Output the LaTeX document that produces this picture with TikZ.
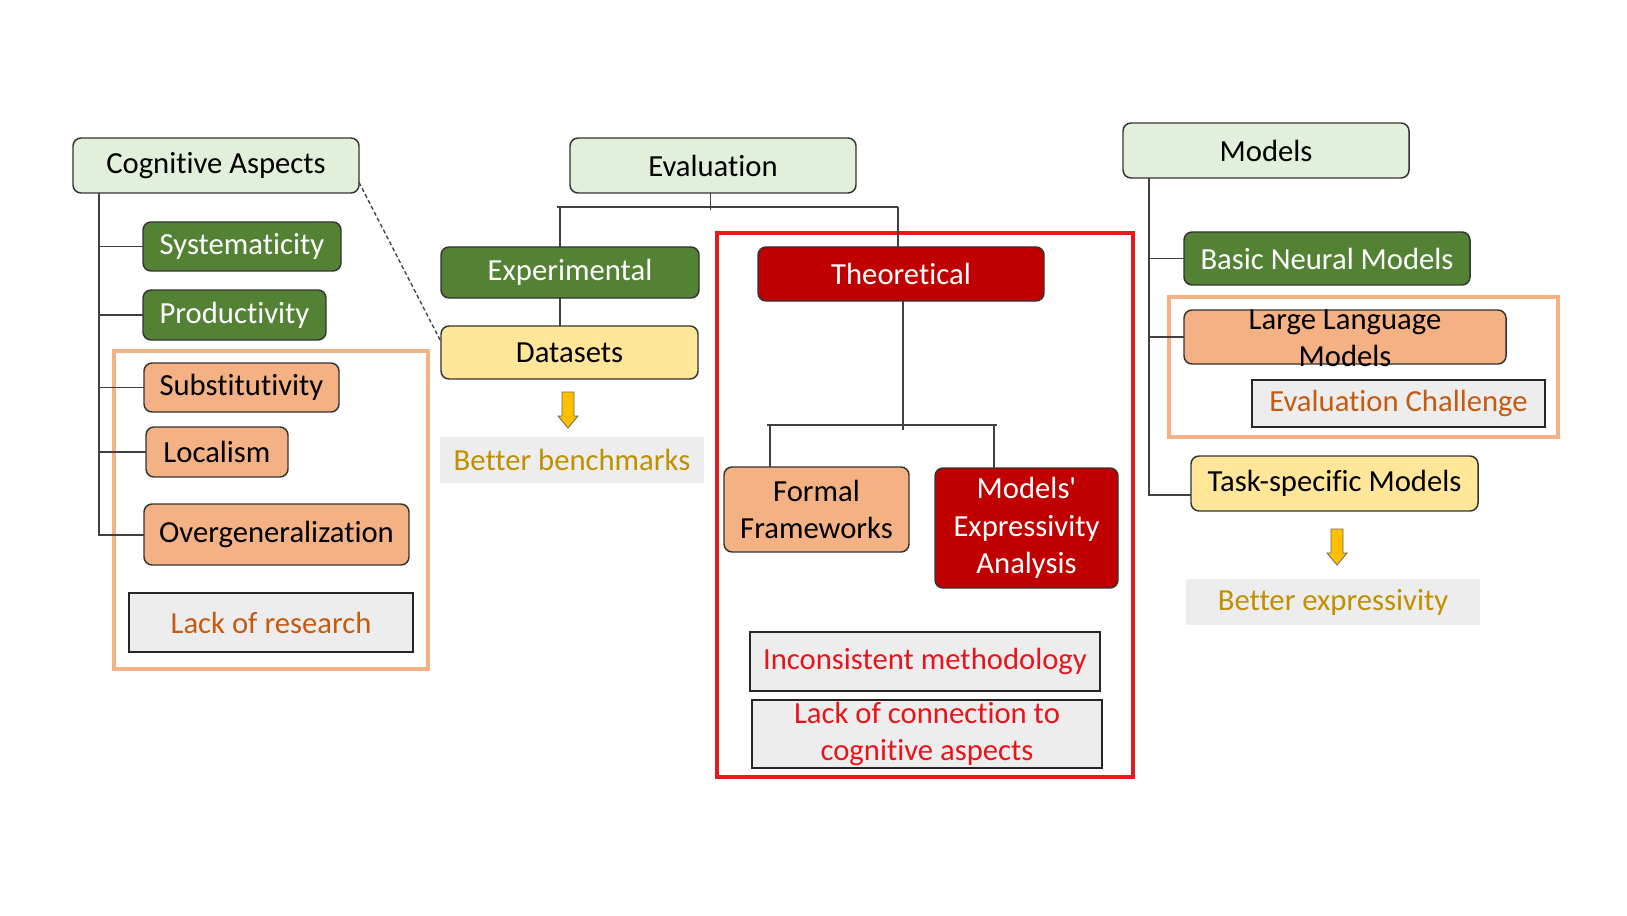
\documentclass[tikz,border=0pt]{standalone}
\usepackage{fontspec}
\newfontfamily\carl{Carlito}[Ligatures=NoCommon]
\definecolor{lgreen}{HTML}{E2EFDA}
\definecolor{dgreen}{HTML}{548235}
\definecolor{orng}{HTML}{F4B183}
\definecolor{yell}{HTML}{FFE699}
\definecolor{dred}{HTML}{C00000}
\definecolor{gry}{HTML}{EDEDED}
\definecolor{otxt}{HTML}{C55A11}
\definecolor{gtxt}{HTML}{BF9000}
\definecolor{rtxt}{HTML}{E8141B}
\definecolor{frred}{HTML}{E31B1B}
\definecolor{arrfill}{HTML}{FFC000}
\newcommand\blkarrow[3]{% center x, top y, bottom y
  \draw[blockarrow] (#1-6,#2) -- (#1+6,#2) -- (#1+6,#3-12) -- (#1+10,#3-12) -- (#1,#3) -- (#1-10,#3-12) -- (#1-6,#3-12) -- cycle;}
% box from corners: style, name, x1, y1, x2, y2, text
\newcommand\bx[7]{\node[#1, minimum width={(#5-#3)*0.75pt}, minimum height={(#6-#4)*0.75pt}] (#2) at ({(#3+#5)/2},{(#4+#6)/2+1}) {#7};}
\begin{document}
\begin{tikzpicture}[x=0.75pt,y=-0.75pt,
 font=\carl\fontsize{23}{28}\selectfont,
 base/.style={inner sep=0pt, outer sep=0pt, align=center, line width=1.1pt, rounded corners=6pt},
 lgbox/.style={base, draw=black!80, fill=lgreen},
 dgbox/.style={base, draw=black!80, fill=dgreen, text=white},
 orbox/.style={base, draw=black!80, fill=orng},
 yebox/.style={base, draw=black!80, fill=yell},
 rdbox/.style={base, draw=black!80, fill=dred, text=white},
 grbox/.style={base, rounded corners=0pt, draw=black!85, fill=gry},
 notebox/.style={base, rounded corners=0pt, fill=gry},
 conn/.style={draw=black!75, line width=0.9pt},
 frame/.style={line width=2.3pt},
 blockarrow/.style={fill=arrfill, draw=black!60, line width=0.6pt},
]
\useasboundingbox (0,0) rectangle (1627,916);
% frames
\draw[frame, draw=orng] (114,351) rectangle (428,669);
\draw[frame, draw=frred] (717,233) rectangle (1133,777);
\draw[frame, draw=orng] (1169,297) rectangle (1558,437);
% left column
\bx{lgbox}{ca}{73}{137}{359}{192}{Cognitive Aspects}
\bx{dgbox}{sys}{143}{221}{341}{270}{Systematicity}
\bx{dgbox}{prod}{143}{289}{326}{339}{Productivity}
\bx{orbox}{subs}{144}{362}{339}{411}{Substitutivity}
\bx{orbox}{loc}{146}{426}{288}{476}{Localism}
\bx{orbox}{og}{144}{503}{409}{564}{Overgeneralization}
\bx{grbox,text=otxt}{lor}{129}{592}{413}{651}{Lack of research}
% middle column
\bx{lgbox}{eval}{570}{137}{856}{192}{Evaluation}
\bx{dgbox}{exp}{441}{246}{699}{297}{Experimental}
\bx{yebox}{ds}{441}{325}{698}{378}{Datasets}
\bx{notebox,text=gtxt}{bb}{440}{436}{704}{482}{Better benchmarks}
\bx{rdbox}{theo}{758}{246}{1044}{300}{Theoretical}
\bx{orbox}{ff}{724}{466}{909}{551}{Formal\\Frameworks}
\bx{rdbox}{mea}{935}{467}{1118}{587}{Models'\\Expressivity\\Analysis}
\bx{grbox,text=rtxt}{im}{750}{631}{1100}{690}{Inconsistent methodology}
\bx{grbox,text=rtxt}{lc}{752}{699}{1102}{767}{Lack of connection to\\cognitive aspects}
% right column
\bx{lgbox}{mod}{1123}{122}{1409}{177}{Models}
\bx{dgbox}{bnm}{1184}{231}{1470}{284}{Basic Neural Models}
\bx{orbox}{llm}{1184}{309}{1506}{363}{}
\node[align=center, inner sep=0pt] (llmt) at ([yshift=-1pt]llm.center) {Large Language\\Models};
\bx{grbox,text=otxt}{ec}{1252}{379}{1545}{426}{Evaluation Challenge}
\bx{yebox}{tsm}{1191}{455}{1478}{510}{Task-specific Models}
\bx{notebox,text=gtxt}{be}{1186}{578}{1480}{624}{Better expressivity}
% connectors: cognitive aspects
\coordinate (cab) at (99,535);
\draw[conn] (ca.south -| cab) -- (cab) -- (og.west |- cab);
\foreach \n in {sys,prod,subs,loc} \draw[conn] (\n.west) -- (\n.west -| cab);
\draw[conn, line width=1pt, dash pattern=on 3pt off 2pt] ([yshift=8pt]ca.south east) -- ([yshift=8pt]ds.west);
% connectors: evaluation
\coordinate (ej) at (560,207);
\coordinate (er) at (898,207);
\draw[conn] ([xshift=-2pt]ej) -- (er);
\draw[conn] ([xshift=-2pt]eval.south) -- ++(0,17);
\draw[conn] (ej) -- (ej |- exp.north);
\draw[conn] (exp.south -| ej) -- (ds.north -| ej);
\draw[conn] (er) -- (er |- theo.north);
\coordinate (tj) at (903,425);
\coordinate (tfl) at (770,425);
\coordinate (tfr) at (994,425);
\draw[conn] (theo.south -| tj) -- ([yshift=-4pt]tj);
\draw[conn] ([xshift=-2pt]tfl) -- ([xshift=2pt]tfr);
\draw[conn] (tfl) -- (tfl |- ff.north);
\draw[conn] (tfr) -- (tfr |- mea.north);
% connectors: models
\coordinate (mb) at (1149,495);
\draw[conn] (mod.south -| mb) -- (mb) -- (mb -| tsm.west);
\draw[conn] (bnm.west) -- (bnm.west -| mb);
\draw[conn] (llm.west) -- (llm.west -| mb);
% block arrows
\blkarrow{568}{392}{428}
\blkarrow{1337}{529}{565}
\end{tikzpicture}
\end{document}
